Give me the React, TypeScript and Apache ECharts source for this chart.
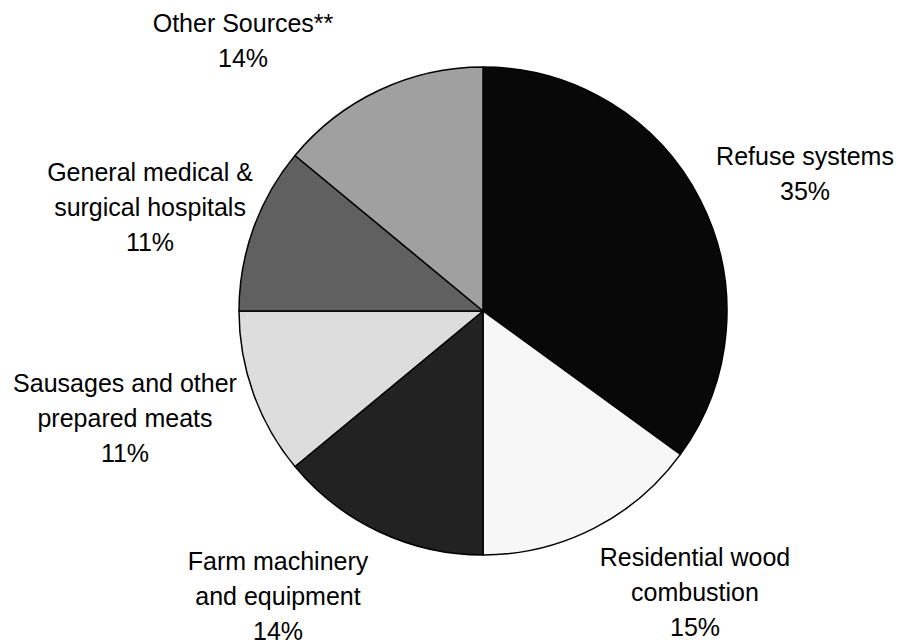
import React, { useEffect, useRef } from "react";
import * as echarts from "echarts";

const categories = [
  "Refuse systems",
  "Residential wood\ncombustion",
  "Farm machinery\nand equipment",
  "Sausages and other\nprepared meats",
  "General medical &\nsurgical hospitals",
  "Other Sources**",
];
const values = [35, 15, 14, 11, 11, 14];
const colors = ["#080808", "#f7f7f7", "#222222", "#dddddd", "#606060", "#a0a0a0"];
const labelCenters: [number, number][] = [
  [805, 173],
  [695, 592],
  [278, 596],
  [125, 418],
  [150, 207],
  [243, 40],
];

export default function App() {
  const ref = useRef<HTMLDivElement>(null);
  useEffect(() => {
    if (!ref.current) return;
    const chart = echarts.init(ref.current, undefined, { renderer: "svg" });
    chart.setOption({
      animation: false,
      backgroundColor: "#ffffff",
      series: [
        {
          type: "pie",
          center: [483, 311],
          radius: 244,
          startAngle: 90,
          clockwise: true,
          data: categories.map((c, i) => ({
            name: c,
            value: values[i],
            itemStyle: { color: colors[i] },
          })),
          itemStyle: { borderColor: "#000000", borderWidth: 1.5 },
          label: {
            show: true,
            formatter: (p: any) => `${p.name}\n${p.value}%`,
            fontFamily: "Liberation Sans, Arial, sans-serif",
            fontSize: 25,
            lineHeight: 35,
            color: "#000000",
            align: "center",
            overflow: "none",
          },
          labelLine: { show: false },
          labelLayout: (params: any) => {
            const [x, y] = labelCenters[params.dataIndex];
            return { x, y, align: "center", verticalAlign: "middle" };
          },
          emphasis: { disabled: true },
        },
      ],
    });
    return () => chart.dispose();
  }, []);
  return (
    <div
      ref={ref}
      style={{ position: "absolute", left: 0, top: 0, width: 900, height: 640 }}
    />
  );
}
